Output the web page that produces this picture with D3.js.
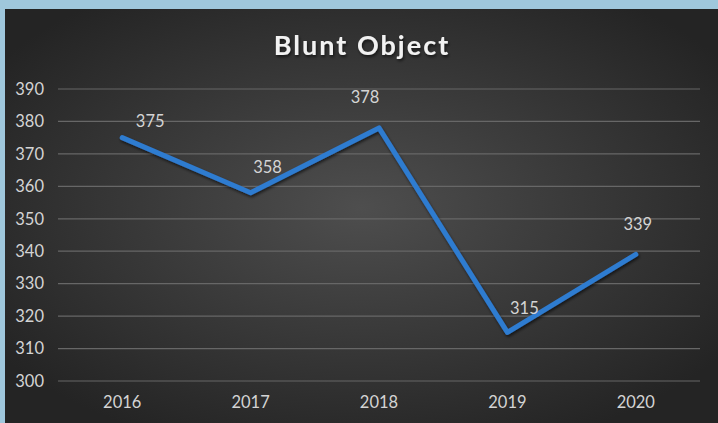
<!DOCTYPE html>
<html><head><meta charset="utf-8">
<script src="https://cdn.jsdelivr.net/npm/d3@7"></script>
<style>html,body{margin:0;padding:0;background:#9fc7dc;}svg{display:block;}</style>
</head><body>
<script>
const categories = ["2016","2017","2018","2019","2020"];
const values = [375, 358, 378, 315, 339];
const yTicks = [300,310,320,330,340,350,360,370,380,390];
const title = "Blunt Object";
// label nudges (layout, px)
const labelNudge = [[28,-16],[17,-26],[-14,-31],[17,-24],[2,-30]];

const W = 718, H = 423;
const svg = d3.select("body").append("svg").attr("width", W).attr("height", H);
const defs = svg.append("defs");
const rg = defs.append("radialGradient").attr("id","bg").attr("cx","50%").attr("cy","48%").attr("r","62%");
rg.append("stop").attr("offset","0%").attr("stop-color","#4e4e4e");
rg.append("stop").attr("offset","100%").attr("stop-color","#242424");
const f = defs.append("filter").attr("id","sh").attr("x","-20%").attr("y","-20%").attr("width","140%").attr("height","140%");
f.append("feDropShadow").attr("dx",1).attr("dy",2).attr("stdDeviation",1.5).attr("flood-color","#000").attr("flood-opacity",0.6);

svg.append("rect").attr("x",0).attr("y",0).attr("width",W).attr("height",H).attr("fill","#9fc7dc");
svg.append("rect").attr("x",5).attr("y",9).attr("width",W-5).attr("height",H-9).attr("fill","url(#bg)");

const x = d3.scaleBand().domain(categories).range([58, 700]);
const y = d3.scaleLinear().domain([300, 390]).range([381, 89]);
const font = "Lato, 'Open Sans', sans-serif";
const fs = 16.5;

// gridlines
svg.append("g").selectAll("line").data(yTicks).join("line")
  .attr("x1", 58).attr("x2", 700)
  .attr("y1", d => y(d)).attr("y2", d => y(d))
  .attr("stroke", "#676767").attr("stroke-width", 1.2);

// y axis
const yAxis = d3.axisLeft(y).tickValues(yTicks).tickSize(0).tickPadding(0);
const gy = svg.append("g").attr("transform","translate(44,0)").call(yAxis);
gy.select(".domain").remove();
gy.selectAll("text").attr("fill","#d4d4d4").attr("font-size",fs).attr("font-family",font);

// x axis
const xAxis = d3.axisBottom(x).tickSize(0).tickPadding(0);
const gx = svg.append("g").attr("transform","translate(0,396)").call(xAxis);
gx.select(".domain").remove();
gx.selectAll("text").attr("fill","#d4d4d4").attr("font-size",fs).attr("font-family",font);

// line
const cx = d => x(d) + x.bandwidth()/2;
const line = d3.line().x((d,i) => cx(categories[i])).y(d => y(d));
svg.append("path").datum(values).attr("d", line)
  .attr("fill","none").attr("stroke","#2f7bd0").attr("stroke-width",5)
  .attr("stroke-linejoin","round").attr("stroke-linecap","round").attr("filter","url(#sh)");

// data labels
svg.append("g").selectAll("text").data(values).join("text")
  .attr("x", (d,i) => cx(categories[i]) + labelNudge[i][0])
  .attr("y", (d,i) => y(d) + labelNudge[i][1])
  .attr("dy","0.35em").attr("text-anchor","middle")
  .attr("fill","#d4d4d4").attr("font-size",fs).attr("font-family",font)
  .text(d => d);

// title
svg.append("text").attr("x", 362).attr("y", 46).attr("dy","0.35em").attr("text-anchor","middle")
  .attr("fill","#f2f2f2").attr("font-size",27).attr("font-weight","bold").attr("font-family",font)
  .attr("letter-spacing", 2).attr("filter","url(#sh)")
  .text(title);
</script>
</body></html>
